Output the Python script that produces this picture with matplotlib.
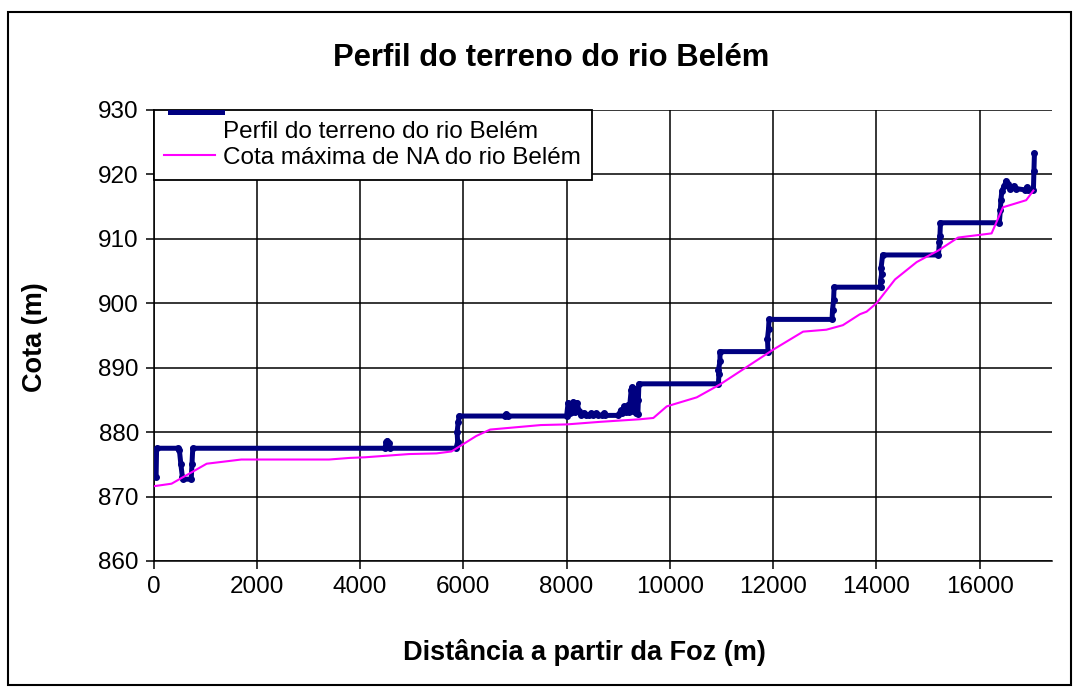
import matplotlib
matplotlib.use("Agg")
import matplotlib.pyplot as plt
from matplotlib.lines import Line2D
from matplotlib.patches import Rectangle

# Terrain profile of the river (distance from mouth, elevation)
perfil_x = [50, 60, 480, 500, 530, 560, 580, 730, 745, 760,
            4480, 4510, 4530, 4560, 4580, 5860, 5890, 5880, 5900, 5920,
            6800, 6830, 6860, 8000, 8030, 8060, 8100, 8130, 8160, 8200,
            8240, 8280, 8330, 8370, 8440, 8480, 8520, 8560, 8600, 8690,
            8720, 8750, 9000, 9050, 9080, 9120, 9150, 9180, 9210, 9250,
            9270, 9290, 9320, 9340, 9380, 9390, 9400, 10940, 10950, 10940,
            10970, 10970, 11900, 11890, 11910, 11920, 13140, 13150, 13170, 13180,
            14080, 14080, 14100, 14090, 14120, 15200, 15220, 15230, 15240, 16380,
            16400, 16410, 16430, 16480, 16510, 16540, 16580, 16620, 16660, 16700,
            16880, 16910, 16940, 17040, 17050, 17060]
perfil_y = [873.0, 877.5, 877.5, 877.3, 875.0, 873.0, 872.7, 872.7, 875.0, 877.5,
            877.5, 878.5, 878.7, 878.3, 877.5, 877.5, 878.5, 880.0, 881.5, 882.5,
            882.5, 882.8, 882.5, 882.5, 884.6, 883.0, 883.2, 884.7, 883.2, 884.6,
            883.3, 882.6, 883.0, 882.6, 882.6, 882.9, 882.6, 882.9, 882.6, 882.6,
            882.9, 882.6, 882.6, 883.4, 883.0, 884.0, 883.2, 884.2, 883.1, 886.5,
            887.0, 883.3, 886.7, 883.0, 882.8, 885.0, 887.5, 887.5, 889.0, 889.6,
            891.0, 892.5, 892.5, 894.5, 896.0, 897.5, 897.5, 899.0, 900.5, 902.5,
            902.5, 903.5, 904.5, 905.5, 907.5, 907.5, 909.5, 910.5, 912.5, 912.5,
            914.5, 916.0, 917.5, 918.2, 919.0, 918.5, 917.8, 918.0, 918.2, 917.8,
            917.6, 918.0, 917.6, 917.6, 920.5, 923.3]

# Maximum water level (NA)
na_x = [0, 350, 1030, 1700, 3400, 3800, 4100, 4950, 5480, 5770,
        5950, 6250, 6520, 7500, 8000, 8650, 9420, 9680, 9940, 10520,
        10970, 12000, 12580, 13030, 13350, 13680, 13810, 14000, 14360, 14780,
        15200, 15580, 16230, 16450, 16900, 17040]
na_y = [871.6, 872.0, 875.1, 875.75, 875.75, 876.0, 876.1, 876.6, 876.7, 877.0,
        877.9, 879.4, 880.4, 881.1, 881.2, 881.6, 882.0, 882.2, 884.0, 885.4,
        887.4, 892.8, 895.6, 895.9, 896.6, 898.3, 898.7, 900.0, 903.7, 906.4,
        908.2, 910.2, 910.85, 914.9, 916.0, 917.5]

x_ticks = [0, 2000, 4000, 6000, 8000, 10000, 12000, 14000, 16000]
y_ticks = [860, 870, 880, 890, 900, 910, 920, 930]

plt.rcParams["font.family"] = ["Liberation Sans", "DejaVu Sans"]

W, H = 1079, 687
fig = plt.figure(figsize=(W / 100, H / 100), dpi=100)

# chart area border
fig.patches.append(Rectangle((8 / W, 1 - 685 / H), (1071 - 8) / W, (685 - 12) / H,
                             transform=fig.transFigure, fill=False,
                             edgecolor="black", linewidth=1.5))

ax = fig.add_axes([153.5 / W, 1 - 561 / H, (1052 - 153.5) / W, (561 - 110) / H])

ax.plot(perfil_x, perfil_y, color="#000080", linewidth=3.6, marker="o",
        markersize=4, solid_joinstyle="round", solid_capstyle="round", zorder=3)
ax.plot(na_x, na_y, color="#FF00FF", linewidth=1.5, zorder=4)

ax.set_xlim(0, 17400)
ax.set_ylim(860, 930)
ax.set_xticks(x_ticks)
ax.set_yticks(y_ticks)
ax.grid(True, color="black", linewidth=1.1)
ax.set_axisbelow(True)
for side in ["top", "right"]:
    ax.spines[side].set_visible(False)
for side in ["left", "bottom"]:
    ax.spines[side].set_linewidth(1.1)
ax.tick_params(direction="out", length=5.5, width=1.1, labelsize=17.5, pad=5)

fig.text(551 / W, 1 - 58 / H, "Perfil do terreno do rio Belém", ha="center",
         va="center", fontsize=22.3, fontweight="bold")
fig.text(584 / W, 1 - 652 / H, "Distância a partir da Foz (m)", ha="center",
         va="center", fontsize=19.5, fontweight="bold")
fig.text(35 / W, 1 - 337 / H, "Cota (m)", ha="center", va="center",
         rotation=90, fontsize=19.5, fontweight="bold")

# legend: first handle is drawn separately at the top of the box, as in the original
handles = [Line2D([], [], color="none"),
           Line2D([], [], color="#FF00FF", linewidth=1.5)]
leg = ax.legend(handles, ["Perfil do terreno do rio Belém", "Cota máxima de NA do rio Belém"],
                loc="upper left", bbox_to_anchor=(0, 1), borderaxespad=0,
                fontsize=17.5, frameon=True, fancybox=False, framealpha=1,
                edgecolor="black", handlelength=2.1, handletextpad=0.3,
                labelspacing=0.15, borderpad=0.45)
leg.get_frame().set_linewidth(1.3)
leg.set_zorder(10)
ax.plot([0.018, 0.076], [0.996, 0.996], transform=ax.transAxes, color="#000080",
        linewidth=3.6, clip_on=False, zorder=11)

fig.savefig("out.png", dpi=100)
